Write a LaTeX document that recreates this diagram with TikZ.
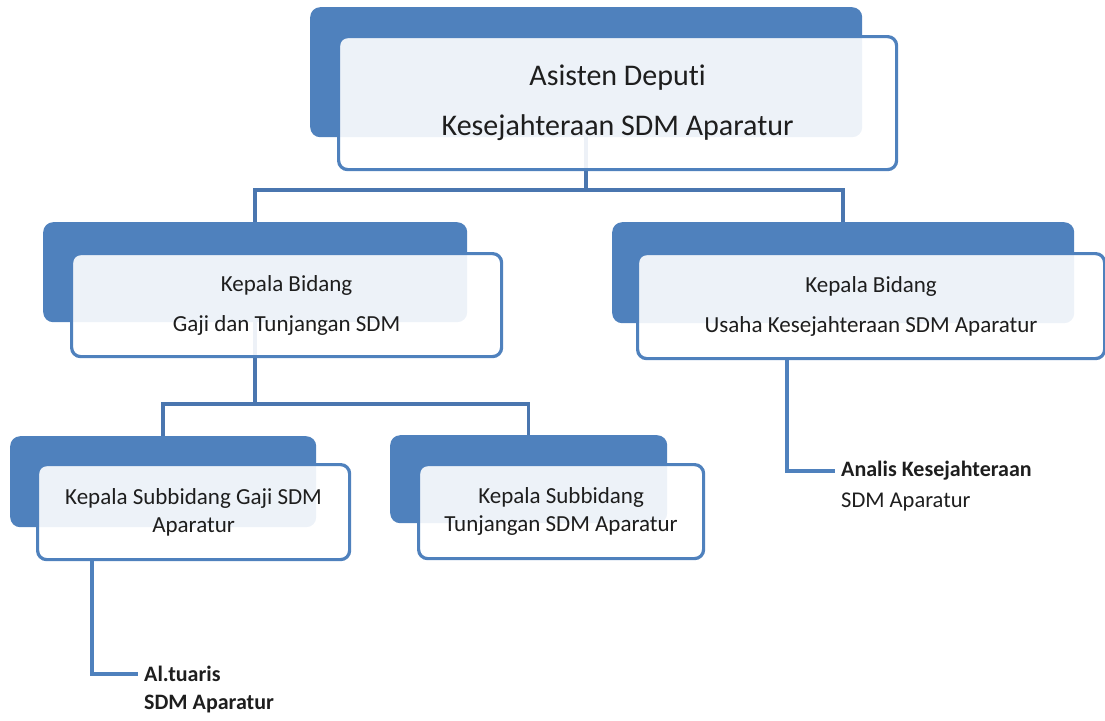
\documentclass[tikz,border=0pt]{standalone}
\usepackage{fontspec}
\setmainfont{Carlito}[Ligatures=NoCommon]
\definecolor{acc}{HTML}{4F81BD}
\definecolor{lnk}{HTML}{4A76AF}
\definecolor{txt}{HTML}{1E1E1E}
\begin{document}
\begin{tikzpicture}[x=1pt,y=-1pt,
  backbox/.style={fill=acc, rounded corners=10pt, inner sep=0pt, draw=none, anchor=north west},
  frontbox/.style={fill=white, fill opacity=0.9, text opacity=1, draw=acc, line width=3.2pt,
    rounded corners=9pt, inner sep=0pt, align=center, text=txt, anchor=north west},
  topfont/.style={font=\fontsize{30}{50}\selectfont},
  midfont/.style={font=\fontsize{23}{40}\selectfont},
  botfont/.style={font=\fontsize{23}{28}\selectfont},
  conn/.style={draw=lnk, line width=3.5pt},
  leaf/.style={draw=acc, line width=4.5pt},
  lbl/.style={text=txt, inner sep=6pt, anchor=west, font=\fontsize{22.5}{30}\selectfont},
  lblb/.style={lbl, font=\bfseries\fontsize{22}{30}\selectfont}]
\useasboundingbox (0,0) rectangle (1105,720);
% back boxes
\node[backbox, minimum width=552pt, minimum height=130pt] (topback) at (310,7) {};
\node[backbox, minimum width=424pt, minimum height=100pt] (midLback) at (43,222) {};
\node[backbox, minimum width=462pt, minimum height=101pt] (midRback) at (612,222) {};
\node[backbox, minimum width=306pt, minimum height=91pt] (botLback) at (10,436) {};
\node[backbox, minimum width=277pt, minimum height=88pt] (botMback) at (390,435) {};
% bus coordinates
\coordinate (busA) at (0,190);
\coordinate (busB) at (0,404);
\coordinate (leafxL) at (92,0);
\coordinate (leafxR) at (787,0);
% connectors
\draw[conn] (topback.south) -- (topback.south |- busA) -| (midLback.north);
\draw[conn] (topback.south |- busA) -| (midRback.north);
\draw[conn] (midLback.south) -- (midLback.south |- busB) -| (botLback.north);
\draw[conn] (midLback.south |- busB) -| (botMback.north);
% front boxes
\node[frontbox, topfont, minimum width=558pt, minimum height=133pt] (top) at (337,35)
  {Asisten Deputi\\Kesejahteraan SDM Aparatur};
\node[frontbox, midfont, minimum width=430pt, minimum height=103pt] (midL) at (70,252)
  {Kepala Bidang\\Gaji dan Tunjangan SDM};
\node[frontbox, midfont, minimum width=467pt, minimum height=105pt] (midR) at (636,252)
  {Kepala Bidang\\Usaha Kesejahteraan SDM Aparatur};
\node[frontbox, botfont, minimum width=312pt, minimum height=95pt] (botL) at (36,463)
  {Kepala Subbidang Gaji SDM\\Aparatur};
\node[frontbox, botfont, minimum width=285pt, minimum height=94pt] (botM) at (417,463)
  {Kepala Subbidang\\Tunjangan SDM Aparatur};
% leaf labels
\node[lblb] (akt) at (138,674) {Al.tuaris};
\node[lblb] (akt2) at (138,704) {SDM Aparatur};
\node[lblb] (ana) at (835,471) {Analis Kesejahteraan};
\node[lbl] (ana2) at (835,502) {SDM Aparatur};
% leaf connectors
\draw[leaf] (botL.south -| leafxL) |- (akt.west);
\draw[leaf] (midR.south -| leafxR) |- (ana.west);
\end{tikzpicture}
\end{document}
